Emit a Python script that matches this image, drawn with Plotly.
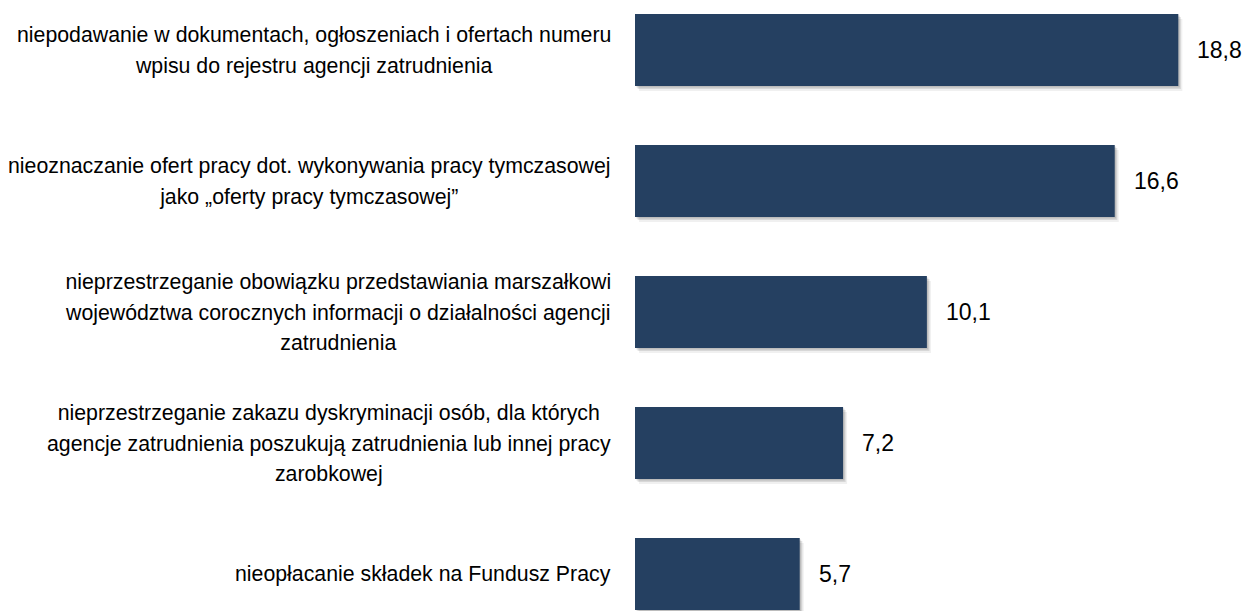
import plotly.graph_objects as go

categories = [
    "niepodawanie w dokumentach, ogłoszeniach i ofertach numeru\nwpisu do rejestru agencji zatrudnienia",
    "nieoznaczanie ofert pracy dot. wykonywania pracy tymczasowej\njako „oferty pracy tymczasowej”",
    "nieprzestrzeganie obowiązku przedstawiania marszałkowi\nwojewództwa corocznych informacji o działalności agencji\nzatrudnienia",
    "nieprzestrzeganie zakazu dyskryminacji osób, dla których\nagencje zatrudnienia poszukują zatrudnienia lub innej pracy\nzarobkowej",
    "nieopłacanie składek na Fundusz Pracy",
]
values = [18.8, 16.6, 10.1, 7.2, 5.7]

BAR_COLOR = "#254061"
FONT = "Liberation Sans, Arial, Helvetica, sans-serif"
LABEL_SIZE = 21.3
LINE_H = 30.5
BAR_W = 0.55
PX_PER_CAT = 131.0

cat_ids = list(range(len(categories)))

fig = go.Figure()

# soft shadows
for dx, dy, col in [(0.14, 5, "rgba(0,0,0,0.06)"), (0.09, 3, "rgba(0,0,0,0.10)"), (0.05, 1.5, "rgba(0,0,0,0.12)")]:
    fig.add_trace(go.Bar(
        y=cat_ids, x=values, base=dx, orientation="h",
        width=BAR_W, offset=-BAR_W / 2 + dy / PX_PER_CAT,
        marker=dict(color=col, line=dict(width=0)),
        hoverinfo="skip", showlegend=False,
    ))

fig.add_trace(go.Bar(
    y=cat_ids, x=values, orientation="h",
    width=BAR_W, offset=-BAR_W / 2,
    marker=dict(color=BAR_COLOR, line=dict(width=0)),
    showlegend=False,
))

annotations = []
for i, (lab, v) in enumerate(zip(categories, values)):
    lines = lab.split("\n")
    # outer font size sets the line spacing (1.3 em), inner span the glyph size
    txt = "<br>".join(f'<span style="font-size:{LABEL_SIZE}px">{ln}</span>' for ln in lines)
    annotations.append(dict(
        x=0, xref="paper", xanchor="right", xshift=-22,
        y=i, yref="y", yanchor="middle",
        text=txt, showarrow=False, align="center",
        font=dict(family=FONT, size=LINE_H / 1.3, color="#000000"),
    ))
    annotations.append(dict(
        x=v, xref="x", xanchor="left", xshift=17,
        y=i, yref="y", yanchor="middle",
        text=f"{v:.1f}".replace(".", ","), showarrow=False,
        font=dict(family=FONT, size=23, color="#000000"),
    ))

fig.update_layout(
    width=1243, height=611,
    margin=dict(l=635, r=0, t=0, b=0),
    paper_bgcolor="white", plot_bgcolor="white",
    barmode="overlay",
    xaxis=dict(range=[0, 608 / 28.9], visible=False),
    yaxis=dict(range=[-0.382 + 611 / PX_PER_CAT, -0.382], visible=False),
    annotations=annotations,
)

fig.write_html(
    "out.html",
    config={"displayModeBar": False},
    post_script="document.body.style.margin='0';document.body.style.overflow='hidden';",
)
